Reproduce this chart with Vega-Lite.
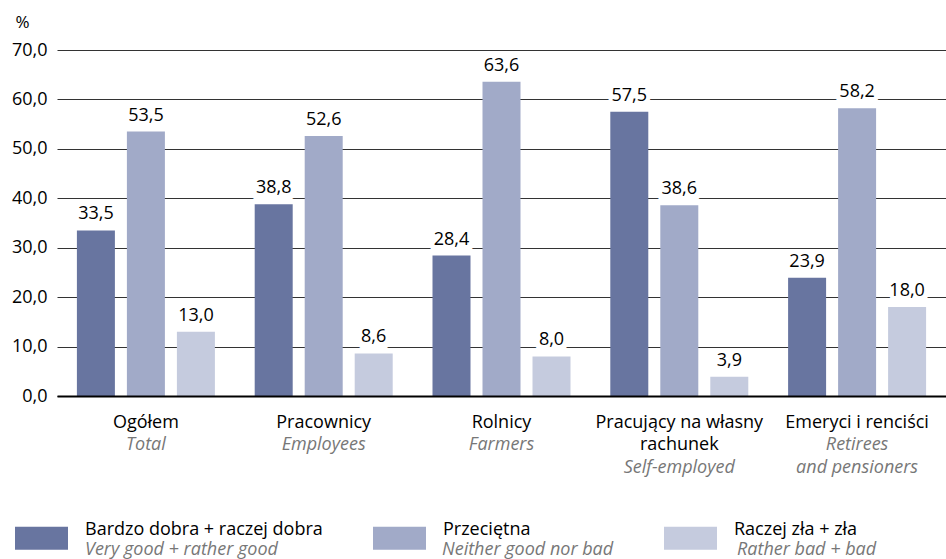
{
  "$schema": "https://vega.github.io/schema/vega-lite/v6.json",
  "width": 889,
  "height": 346,
  "autosize": {"type": "none"},
  "padding": {"left": 57, "top": 50, "right": 0, "bottom": 163},
  "background": "white",
  "config": {
    "view": {"stroke": null},
    "font": "Open Sans",
    "locale": {"number": {"decimal": ",", "thousands": " ", "grouping": [3], "currency": ["", " zł"]}}
  },
  "data": {
    "values": [
      {"grupa": "Ogółem|Total", "ocena": "Bardzo dobra + raczej dobra|Very good + rather good", "procent": 33.5},
      {"grupa": "Ogółem|Total", "ocena": "Przeciętna|Neither good nor bad", "procent": 53.5},
      {"grupa": "Ogółem|Total", "ocena": "Raczej zła + zła|Rather bad + bad", "procent": 13.0},
      {"grupa": "Pracownicy|Employees", "ocena": "Bardzo dobra + raczej dobra|Very good + rather good", "procent": 38.8},
      {"grupa": "Pracownicy|Employees", "ocena": "Przeciętna|Neither good nor bad", "procent": 52.6},
      {"grupa": "Pracownicy|Employees", "ocena": "Raczej zła + zła|Rather bad + bad", "procent": 8.6},
      {"grupa": "Rolnicy|Farmers", "ocena": "Bardzo dobra + raczej dobra|Very good + rather good", "procent": 28.4},
      {"grupa": "Rolnicy|Farmers", "ocena": "Przeciętna|Neither good nor bad", "procent": 63.6},
      {"grupa": "Rolnicy|Farmers", "ocena": "Raczej zła + zła|Rather bad + bad", "procent": 8.0},
      {"grupa": "Pracujący na własny~rachunek|Self-employed", "ocena": "Bardzo dobra + raczej dobra|Very good + rather good", "procent": 57.5},
      {"grupa": "Pracujący na własny~rachunek|Self-employed", "ocena": "Przeciętna|Neither good nor bad", "procent": 38.6},
      {"grupa": "Pracujący na własny~rachunek|Self-employed", "ocena": "Raczej zła + zła|Rather bad + bad", "procent": 3.9},
      {"grupa": "Emeryci i renciści|Retirees~and pensioners", "ocena": "Bardzo dobra + raczej dobra|Very good + rather good", "procent": 23.9},
      {"grupa": "Emeryci i renciści|Retirees~and pensioners", "ocena": "Przeciętna|Neither good nor bad", "procent": 58.2},
      {"grupa": "Emeryci i renciści|Retirees~and pensioners", "ocena": "Raczej zła + zła|Rather bad + bad", "procent": 18.0}
    ]
  },
  "encoding": {
    "xOffset": {"field": "ocena", "type": "nominal", "scale": {"paddingInner": 0.24, "paddingOuter": 0.398}},
    "y": {
      "field": "procent",
      "type": "quantitative",
      "scale": {"domain": [0, 70], "nice": false},
      "axis": {
        "title": "%",
        "titleAngle": 0,
        "titleX": -35,
        "titleY": -28,
        "titleAlign": "center",
        "titleBaseline": "middle",
        "titleFontWeight": "normal",
        "titleFontSize": 17,
        "titleColor": "#000",
        "titleFont": "Open Sans",
        "values": [0, 10, 20, 30, 40, 50, 60, 70],
        "format": ".1f",
        "grid": true,
        "gridColor": "#333",
        "gridWidth": 1,
        "domain": false,
        "ticks": false,
        "labelFontSize": 18,
        "labelFont": "Open Sans",
        "labelColor": "#000",
        "labelPadding": 10
      }
    }
  },
  "layer": [
    {
      "mark": {"type": "bar"},
      "encoding": {
        "x": {
          "field": "grupa",
          "type": "nominal",
          "sort": null,
          "scale": {"paddingInner": 0, "paddingOuter": 0},
          "axis": {
            "orient": "bottom",
            "title": null,
            "labelAngle": 0,
            "domain": true,
            "domainColor": "#000",
            "domainWidth": 2,
            "ticks": false,
            "grid": false,
            "labelPadding": 17,
            "labelFontSize": 18,
            "labelFont": "Open Sans",
            "labelColor": "#000",
            "labelLineHeight": 22.5,
            "labelLimit": 0,
            "labelOverlap": false,
            "labelBaseline": "top",
            "labelExpr": "split(split(datum.value, '|')[0], '~')",
            "zindex": 1
          }
        },
        "color": {
          "field": "ocena",
          "type": "nominal",
          "scale": {"range": ["#6875a0", "#a1aac8", "#c5cbde"]},
          "legend": {
            "orient": "none",
            "legendX": -42,
            "legendY": 458,
            "direction": "horizontal",
            "columns": 3,
            "title": null,
            "padding": 0,
            "rowPadding": 0,
            "columnPadding": 50,
            "symbolType": "M-1,-0.3H1V0.568H-1Z",
            "symbolSize": 2809,
            "symbolStrokeWidth": 0,
            "symbolOpacity": 1,
            "labelFont": "Open Sans",
            "labelFontSize": 18,
            "labelColor": "#000",
            "labelBaseline": "alphabetic",
            "labelOffset": 17,
            "labelLimit": 0,
            "labelExpr": "[split(datum.value, '|')[0], '\u200b' + pad('', length(split(datum.value, '|')[1]) - 1, '\u2002') + '\u200b']"
          }
        }
      }
    },
    {
      "mark": {"type": "text", "fill": "white", "stroke": "white", "strokeWidth": 8, "strokeJoin": "round", "baseline": "alphabetic", "dy": -7, "fontSize": 18, "font": "Open Sans"},
      "encoding": {
        "x": {"field": "grupa", "type": "nominal", "sort": null, "scale": {"paddingInner": 0, "paddingOuter": 0}, "axis": null},
        "text": {"field": "procent", "type": "quantitative", "format": ".1f"}
      }
    },
    {
      "mark": {"type": "text", "fill": "white", "stroke": "white", "strokeWidth": 8, "strokeJoin": "round", "baseline": "alphabetic", "dy": -11, "fontSize": 18, "font": "Open Sans"},
      "encoding": {
        "x": {"field": "grupa", "type": "nominal", "sort": null, "scale": {"paddingInner": 0, "paddingOuter": 0}, "axis": null},
        "text": {"field": "procent", "type": "quantitative", "format": ".1f"}
      }
    },
    {
      "mark": {"type": "text", "fill": "#000", "baseline": "alphabetic", "dy": -11, "fontSize": 18, "font": "Open Sans"},
      "encoding": {
        "x": {
          "field": "grupa",
          "type": "nominal",
          "sort": null,
          "scale": {"paddingInner": 0, "paddingOuter": 0},
          "axis": {
            "orient": "bottom",
            "title": null,
            "labelAngle": 0,
            "domain": false,
            "ticks": false,
            "grid": false,
            "labelPadding": 17,
            "labelFontSize": 18,
            "labelFont": "Open Sans",
            "labelFontStyle": "italic",
            "labelColor": "#777",
            "labelLineHeight": 22.5,
            "labelLimit": 0,
            "labelOverlap": false,
            "labelBaseline": "top",
            "labelExpr": "split((indexof(split(datum.value, '|')[0], '~') >= 0 ? '\u200b~\u200b~' : '\u200b~') + split(datum.value, '|')[1], '~')"
          }
        },
        "text": {"field": "procent", "type": "quantitative", "format": ".1f"},
        "opacity": {
          "field": "ocena",
          "type": "nominal",
          "scale": {
            "domain": ["Bardzo dobra + raczej dobra|Very good + rather good", "Przeciętna|Neither good nor bad", "Raczej zła + zła|Rather bad + bad"],
            "range": [1, 1, 1]
          },
          "legend": {
            "orient": "none",
            "legendX": -42,
            "legendY": 458,
            "direction": "horizontal",
            "columns": 3,
            "title": null,
            "padding": 0,
            "rowPadding": 0,
            "columnPadding": 50,
            "symbolType": "M-1,-0.3H1",
            "symbolSize": 2809,
            "symbolStrokeWidth": 0,
            "symbolStrokeColor": "transparent",
            "symbolFillColor": "transparent",
            "symbolOpacity": 0,
            "labelFont": "Open Sans",
            "labelFontSize": 18,
            "labelFontStyle": "italic",
            "labelColor": "#777",
            "labelBaseline": "alphabetic",
            "labelOffset": 17,
            "labelLimit": 0,
            "labelExpr": "['\u200b' + pad('', length(split(datum.value, '|')[0]) - 1, '\u2002') + '\u2009\u200b', split(datum.value, '|')[1] + '\u2009\u200b']"
          }
        }
      }
    }
  ],
  "resolve": {"axis": {"x": "independent"}}
}
